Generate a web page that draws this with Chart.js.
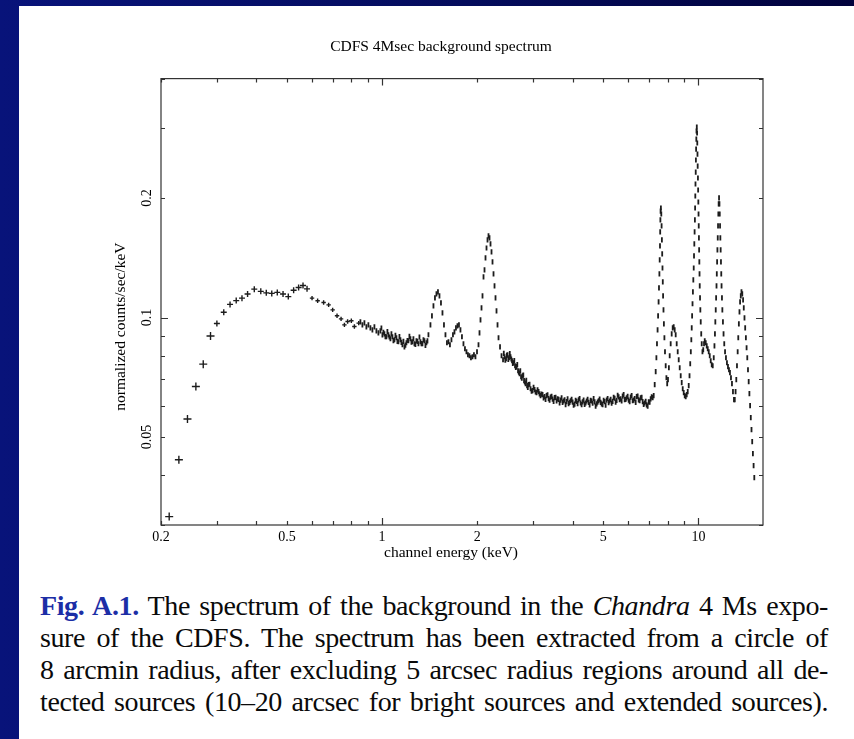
<!DOCTYPE html>
<html>
<head>
<meta charset="utf-8">
<script src="https://cdn.jsdelivr.net/npm/chart.js@4/dist/chart.umd.min.js"></script>
<style>
  html, body { margin: 0; padding: 0; }
  body {
    width: 854px; height: 739px; overflow: hidden; position: relative;
    background: linear-gradient(to right, #08137a 0%, #040c5c 55%, #01023c 100%);
  }
  #sheet { position: absolute; left: 19px; top: 6px; right: 0; bottom: 0; background: #fff; }
  #plot { position: absolute; left: 100px; top: 20px; width: 682px; height: 550px; }
  #caption {
    position: absolute; left: 40px; top: 590px; width: 788px;
    font-family: "Liberation Serif", "Times New Roman", serif;
    font-size: 28px; line-height: 32px; color: #0a0a0a;
    letter-spacing: -0.4px; word-spacing: -1px;
  }
  #caption div { text-align: justify; text-align-last: justify; }
  .figno { color: #1c2ea6; font-weight: bold; }
</style>
</head>
<body>
<div id="sheet"></div>
<div id="plot"><canvas id="spectrum"></canvas></div>
<div id="caption">
  <div><span class="figno">Fig. A.1.</span> The spectrum of the background in the <i>Chandra</i> 4 Ms expo-</div>
  <div>sure of the CDFS. The spectrum has been extracted from a circle of</div>
  <div>8 arcmin radius, after excluding 5 arcsec radius regions around all de-</div>
  <div>tected sources (10–20 arcsec for bright sources and extended sources).</div>
</div>
<script>
// Grouped low-energy bins (keV, counts/s/keV)
const softEnergy = [0.2123,0.2278,0.2425,0.2578,0.2720,0.2868,0.3004,0.3158,0.3306,0.3458,
  0.3606,0.3756,0.3944,0.4135,0.4304,0.4479,0.4663,0.4862,0.5052,0.5252,0.5446,0.5623,0.5790,
  0.6005,0.6254,0.6533,0.6776,0.6977,0.7203,0.7418,0.7601,0.7780,0.7994,0.8173,0.8432];
const softRate = [0.0315,0.0438,0.0555,0.0670,0.0763,0.0898,0.0966,0.1031,0.1079,0.1103,
  0.1119,0.1146,0.1179,0.1164,0.1154,0.1150,0.1157,0.1146,0.1129,0.1171,0.1190,0.1204,0.1181,
  0.1119,0.1102,0.1091,0.1076,0.1045,0.1010,0.0992,0.0958,0.0977,0.0981,0.0949,0.0968];

// Channel-resolution spectrum above ~0.85 keV (ten per row in both arrays)
const lineEnergy = [
  0.8538,0.8663,0.8791,0.8919,0.9050,0.9183,0.9318,0.9455,0.9593,0.9734,
  0.9877,0.9949,1.0022,1.0095,1.0169,1.0243,1.0318,1.0393,1.0470,1.0547,
  1.0624,1.0702,1.0780,1.0859,1.0938,1.1018,1.1099,1.1180,1.1262,1.1344,
  1.1427,1.1511,1.1595,1.1680,1.1765,1.1851,1.1937,1.2024,1.2111,1.2200,
  1.2289,1.2379,1.2469,1.2560,1.2653,1.2745,1.2838,1.2932,1.3028,1.3123,
  1.3219,1.3316,1.3413,1.3511,1.3610,1.3709,1.3809,1.3910,1.4012,1.4218,
  1.4374,1.4532,1.4692,1.4853,1.5017,1.5182,1.5349,1.5518,1.5688,1.5860,
  1.6032,1.6208,1.6386,1.6566,1.6749,1.6933,1.7119,1.7306,1.7496,1.7688,
  1.7882,1.8079,1.8277,1.8478,1.8679,1.8885,1.9092,1.9302,1.9514,1.9729,
  1.9953,2.0172,2.0319,2.0468,2.0618,2.0768,2.0921,2.1074,2.1227,2.1382,
  2.1538,2.1696,2.1854,2.2014,2.2175,2.2337,2.2501,2.2666,2.2831,2.2997,
  2.3168,2.3337,2.3594,2.3853,2.4116,2.4248,2.4381,2.4515,2.4649,2.4784,
  2.4917,2.5054,2.5191,2.5329,2.5468,2.5608,2.5748,2.5889,2.6031,2.6174,
  2.6316,2.6462,2.6606,2.6752,2.6900,2.7047,2.7196,2.7345,2.7495,2.7646,
  2.7797,2.7949,2.8102,2.8256,2.8411,2.8567,2.8723,2.8880,2.9038,2.9250,
  2.9464,2.9679,2.9897,3.0116,3.0336,3.0558,3.0780,3.1005,3.1231,3.1459,
  3.1689,3.1921,3.2154,3.2389,3.2627,3.2866,3.3105,3.3347,3.3598,3.3844,
  3.4091,3.4340,3.4591,3.4844,3.5100,3.5357,3.5614,3.5874,3.6136,3.6400,
  3.6666,3.6934,3.7204,3.7476,3.7751,3.8027,3.8304,3.8584,3.8870,3.9154,
  3.9441,3.9729,4.0020,4.0313,4.0608,4.0905,4.1203,4.1504,4.1804,4.2110,
  4.2418,4.2728,4.3041,4.3356,4.3674,4.3993,4.4313,4.4637,4.4965,4.5294,
  4.5625,4.5959,4.6295,4.6633,4.6976,4.7319,4.7663,4.8011,4.8361,4.8714,
  4.9071,4.9430,4.9792,5.0156,5.0524,5.0893,5.1263,5.1638,5.2017,5.2397,
  5.2781,5.3167,5.3556,5.3948,5.4343,5.4740,5.5139,5.5542,5.5946,5.6355,
  5.6767,5.7182,5.7601,5.8022,5.8447,5.8874,5.9303,5.9737,6.0180,6.0620,
  6.1063,6.1509,6.1960,6.2413,6.2871,6.3331,6.3791,6.4257,6.4724,6.5197,
  6.5674,6.6154,6.6638,6.7125,6.7618,6.8112,6.8608,6.9110,6.9622,7.0131,
  7.0644,7.1160,7.1681,7.2205,7.2735,7.3265,7.3640,7.3950,7.4281,7.4555,
  7.4827,7.5041,7.5264,7.5428,7.5594,7.5703,7.5812,7.5926,7.6093,7.6313,
  7.6480,7.6648,7.6815,7.6982,7.7149,7.7318,7.7544,7.7771,7.8061,7.8395,
  7.8798,7.9201,7.9658,8.0119,8.0650,8.1121,8.1714,8.2311,8.2914,8.3520,
  8.4133,8.4746,8.5364,8.6001,8.6630,8.7264,8.7902,8.8545,8.9192,8.9845,
  9.0504,9.1163,9.1829,9.2499,9.3175,9.3720,9.4199,9.4612,9.4959,9.5234,
  9.5507,9.5791,9.6065,9.6349,9.6632,9.6840,9.7048,9.7256,9.7465,9.7606,
  9.7748,9.7881,9.8050,9.8183,9.8325,9.8476,9.8608,9.8816,9.9024,9.9166,
  9.9308,9.9450,9.9638,9.9784,9.9931,10.008,10.023,10.036,10.051,10.066,
  10.080,10.095,10.117,10.140,10.169,10.206,10.243,10.297,10.356,10.416,
  10.470,10.546,10.623,10.700,10.779,10.858,10.937,11.017,11.098,11.179,
  11.237,11.277,11.309,11.343,11.374,11.407,11.431,11.456,11.482,11.510,
  11.534,11.560,11.586,11.619,11.653,11.679,11.704,11.730,11.756,11.782,
  11.808,11.833,11.868,11.902,11.953,12.006,12.068,12.138,12.218,12.307,
  12.399,12.489,12.580,12.673,12.765,12.858,12.953,13.029,13.105,13.173,
  13.239,13.306,13.364,13.422,13.482,13.541,13.610,13.680,13.760,13.840,
  13.911,13.983,14.054,14.126,14.198,14.270,14.343,14.417,14.491,14.566,
  14.640,14.715,14.791,14.866,14.942,15.018];
const lineRate = [
  0.09754,0.09586,0.09698,0.09475,0.09586,0.09421,0.09312,0.09475,0.09258,0.09152,
  0.09258,0.0941,0.09046,0.0918,0.09099,0.0895,0.08943,0.0921,0.09046,0.0893,
  0.0884,0.0909,0.08943,0.0874,0.08789,0.0902,0.08891,0.0871,0.08688,0.0895,
  0.08789,0.0866,0.08538,0.0871,0.08438,0.0852,0.08638,0.0875,0.08738,0.0896,
  0.0884,0.0867,0.08688,0.0884,0.08588,0.0856,0.08738,0.0871,0.08588,0.0893,
  0.08688,0.0859,0.08588,0.0879,0.08738,0.0851,0.08638,0.0873,0.09047,0.09586,
  0.1009,0.1070,0.1121,0.1147,0.1160,0.1134,0.1089,0.1027,0.09586,0.09047,
  0.08638,0.08688,0.08538,0.08789,0.09047,0.09205,0.09421,0.09530,0.09586,0.09312,
  0.08943,0.08588,0.08341,0.08197,0.08056,0.08010,0.07917,0.07963,0.08056,0.07963,
  0.08197,0.08538,0.09152,0.09868,0.1057,0.1134,0.1266,0.1318,0.1413,0.1497,
  0.1569,0.1606,0.1587,0.1533,0.1463,0.1381,0.1288,0.1202,0.1121,0.1039,
  0.09586,0.08891,0.08438,0.08010,0.07826,0.0812,0.07963,0.0781,0.07872,0.0803,
  0.08056,0.0784,0.07917,0.0811,0.07963,0.0786,0.07781,0.0766,0.07691,0.0779,
  0.07559,0.0749,0.07516,0.0761,0.07343,0.0728,0.07217,0.0734,0.07092,0.0703,
  0.07133,0.0716,0.0693,0.0688,0.0681,0.0694,0.06732,0.0667,0.06771,0.0679,
  0.06615,0.0652,0.06539,0.0667,0.06577,0.0649,0.06464,0.0657,0.06501,0.0642,
  0.06353,0.0641,0.06389,0.0627,0.06316,0.0622,0.06353,0.0638,0.06243,0.0619,
  0.0630,0.0633,0.0623,0.0615,0.0628,0.0629,0.0616,0.0624,0.0622,0.0609,
  0.0619,0.0627,0.0611,0.0616,0.0620,0.0603,0.0614,0.0624,0.0607,0.0611,
  0.0617,0.0622,0.0612,0.0601,0.0605,0.0618,0.0615,0.0607,0.0620,0.0625,
  0.0609,0.0603,0.0613,0.0619,0.0604,0.0609,0.0616,0.0622,0.0611,0.0602,
  0.0618,0.0616,0.0608,0.0625,0.0613,0.0598,0.0606,0.0612,0.0617,0.0623,
  0.0611,0.0606,0.0603,0.0618,0.0614,0.0601,0.0619,0.0625,0.0610,0.0616,
  0.0622,0.0608,0.0615,0.0629,0.0626,0.0612,0.0618,0.0637,0.0631,0.0621,
  0.0624,0.0616,0.0634,0.0639,0.0621,0.0622,0.0627,0.0633,0.0619,0.0614,
  0.0630,0.0636,0.0617,0.0619,0.0625,0.0611,0.0632,0.0634,0.0620,0.0617,
  0.0627,0.0629,0.0614,0.0604,0.0609,0.0615,0.0602,0.0598,0.0613,0.0612,
  0.0624,0.0631,0.0628,0.06353,0.06771,0.07301,0.07917,0.08588,0.09312,0.1009,
  0.1095,0.1188,0.1288,0.1397,0.1515,0.1644,0.1762,0.1855,0.1888,0.1823,
  0.1702,0.1569,0.1446,0.1333,0.1230,0.1134,0.1045,0.09642,0.08891,0.08197,
  0.07559,0.07051,0.06810,0.06970,0.07472,0.08010,0.08588,0.09099,0.09421,0.09475,
  0.09312,0.09047,0.08588,0.08197,0.07826,0.07472,0.07133,0.06850,0.06615,0.06464,
  0.06353,0.06316,0.06389,0.06501,0.06732,0.07133,0.07647,0.08197,0.08789,0.09421,
  0.1009,0.1083,0.1160,0.1244,0.1333,0.1430,0.1533,0.1644,0.1762,0.1888,
  0.2024,0.2170,0.2326,0.2494,0.2658,0.2817,0.2951,0.3020,0.2917,0.2753,
  0.2582,0.2408,0.2247,0.2096,0.1955,0.1823,0.1702,0.1587,0.1480,0.1381,
  0.1288,0.1202,0.1121,0.1045,0.09754,0.09099,0.08588,0.08197,0.08293,0.08588,
  0.08738,0.08638,0.08487,0.08341,0.08197,0.08010,0.07781,0.07603,0.07559,0.07917,
  0.08487,0.09099,0.09754,0.1045,0.1121,0.1202,0.1288,0.1381,0.1480,0.1587,
  0.1702,0.1823,0.1933,0.2001,0.1933,0.1823,0.1702,0.1587,0.1480,0.1381,
  0.1288,0.1202,0.1121,0.1045,0.09754,0.09099,0.08588,0.08197,0.07917,0.07691,
  0.07516,0.07386,0.07259,0.07051,0.06810,0.06501,0.06207,0.06207,0.06501,0.06970,
  0.07559,0.08197,0.08891,0.09642,0.1033,0.1095,0.1134,0.1160,0.1147,0.1108,
  0.1057,0.0998,0.09421,0.08891,0.08391,0.07917,0.07386,0.06890,0.06426,0.05995,
  0.05592,0.05217,0.04866,0.04539,0.04234,0.03950];

// Axis ticks (log scales) and which ones carry a label
const xTickValues = [0.2,0.3,0.4,0.5,0.6,0.7,0.8,0.9,1,2,3,4,5,6,7,8,9,10];
const xTickText   = ['0.2','','','0.5','','','','','1','2','','','5','','','','','10'];
const xMajorTicks = [1, 10];
const yTickValues = [0.03,0.04,0.05,0.06,0.07,0.08,0.09,0.1,0.2,0.3,0.4];
const yTickText   = ['','','0.05','','','','','0.1','0.2','',''];
const yMajorTicks = [0.1];

const xAxisTitle = 'channel energy (keV)';
const yAxisTitle = 'normalized counts/sec/keV';

const SERIF = '"Liberation Serif", "Times New Roman", serif';
const INK = '#1c1c1c';

// Boxed frame with inward-pointing tick marks on all four sides, plus axis titles
const framePlugin = {
  id: 'frameTicks',
  afterDatasetsDraw(chart) {
    const { ctx, chartArea: a, scales: { x, y } } = chart;
    ctx.save();
    ctx.strokeStyle = '#333';
    ctx.lineWidth = 1.2;
    ctx.strokeRect(a.left, a.top, a.right - a.left, a.bottom - a.top);
    ctx.beginPath();
    xTickValues.forEach(v => {
      const px = Math.round(x.getPixelForValue(v)) + 0.5;
      const len = xMajorTicks.includes(v) ? 7 : 4;
      ctx.moveTo(px, a.bottom); ctx.lineTo(px, a.bottom - len);
      ctx.moveTo(px, a.top);    ctx.lineTo(px, a.top + len);
    });
    yTickValues.forEach(v => {
      const py = Math.round(y.getPixelForValue(v)) + 0.5;
      const len = yMajorTicks.includes(v) ? 7 : 4;
      ctx.moveTo(a.left, py);  ctx.lineTo(a.left + len, py);
      ctx.moveTo(a.right, py); ctx.lineTo(a.right - len, py);
    });
    ctx.stroke();

    ctx.fillStyle = '#000';
    ctx.font = '15.5px ' + SERIF;
    ctx.textAlign = 'center';
    ctx.textBaseline = 'middle';
    ctx.fillText(xAxisTitle, a.left + 290, a.bottom + 28);
    ctx.translate(a.left - 40, a.top + 248);
    ctx.rotate(-Math.PI / 2);
    ctx.fillText(yAxisTitle, 0, 0);
    ctx.restore();
  }
};

new Chart(document.getElementById('spectrum'), {
  type: 'scatter',
  data: {
    datasets: [
      {
        label: 'binned',
        data: softEnergy.map((e, i) => ({ x: e, y: softRate[i] })),
        pointStyle: 'cross',
        radius: c => softEnergy[c.dataIndex] < 0.3 ? 4 : (softEnergy[c.dataIndex] < 0.59 ? 3 : 2.2),
        borderWidth: 1.4,
        borderColor: INK,
        backgroundColor: INK
      },
      {
        label: 'channels',
        data: lineEnergy.map((e, i) => ({ x: e, y: lineRate[i] })),
        pointStyle: 'line',
        rotation: 90,
        radius: 2.6,
        borderWidth: 1.8,
        borderColor: INK,
        backgroundColor: INK
      }
    ]
  },
  options: {
    responsive: true,
    maintainAspectRatio: false,
    animation: false,
    events: [],
    layout: { padding: { left: 0, right: 0, top: 0, bottom: 5 } },
    plugins: {
      legend: { display: false },
      tooltip: { enabled: false },
      title: {
        display: true,
        text: 'CDFS 4Msec background spectrum',
        color: '#000',
        font: { family: SERIF, size: 15.5, weight: 'normal' },
        padding: { top: 18, bottom: 22 }
      }
    },
    scales: {
      x: {
        type: 'logarithmic',
        position: 'bottom',
        min: 0.2, max: 16,
        grid: { display: false, drawTicks: false },
        border: { display: false },
        afterBuildTicks: s => { s.ticks = xTickValues.map(v => ({ value: v })); },
        ticks: {
          autoSkip: false, minRotation: 0, maxRotation: 0, padding: 4,
          color: '#000', font: { family: SERIF, size: 14 },
          callback: (v, i) => xTickText[i]
        },
        afterFit: s => { s.height = 40; }
      },
      y: {
        type: 'logarithmic',
        position: 'left',
        min: 0.03, max: 0.4,
        grid: { display: false, drawTicks: false },
        border: { display: false },
        afterBuildTicks: s => { s.ticks = yTickValues.map(v => ({ value: v })); },
        ticks: {
          autoSkip: false, minRotation: 90, maxRotation: 90, crossAlign: 'center', padding: 1,
          color: '#000', font: { family: SERIF, size: 14 },
          callback: (v, i) => yTickText[i]
        },
        afterFit: s => { s.width = 61; }
      },
      yRight: {
        type: 'linear',
        position: 'right',
        grid: { display: false, drawTicks: false },
        border: { display: false },
        ticks: { display: false },
        afterFit: s => { s.width = 19; }
      }
    }
  },
  plugins: [framePlugin]
});
</script>
</body>
</html>
